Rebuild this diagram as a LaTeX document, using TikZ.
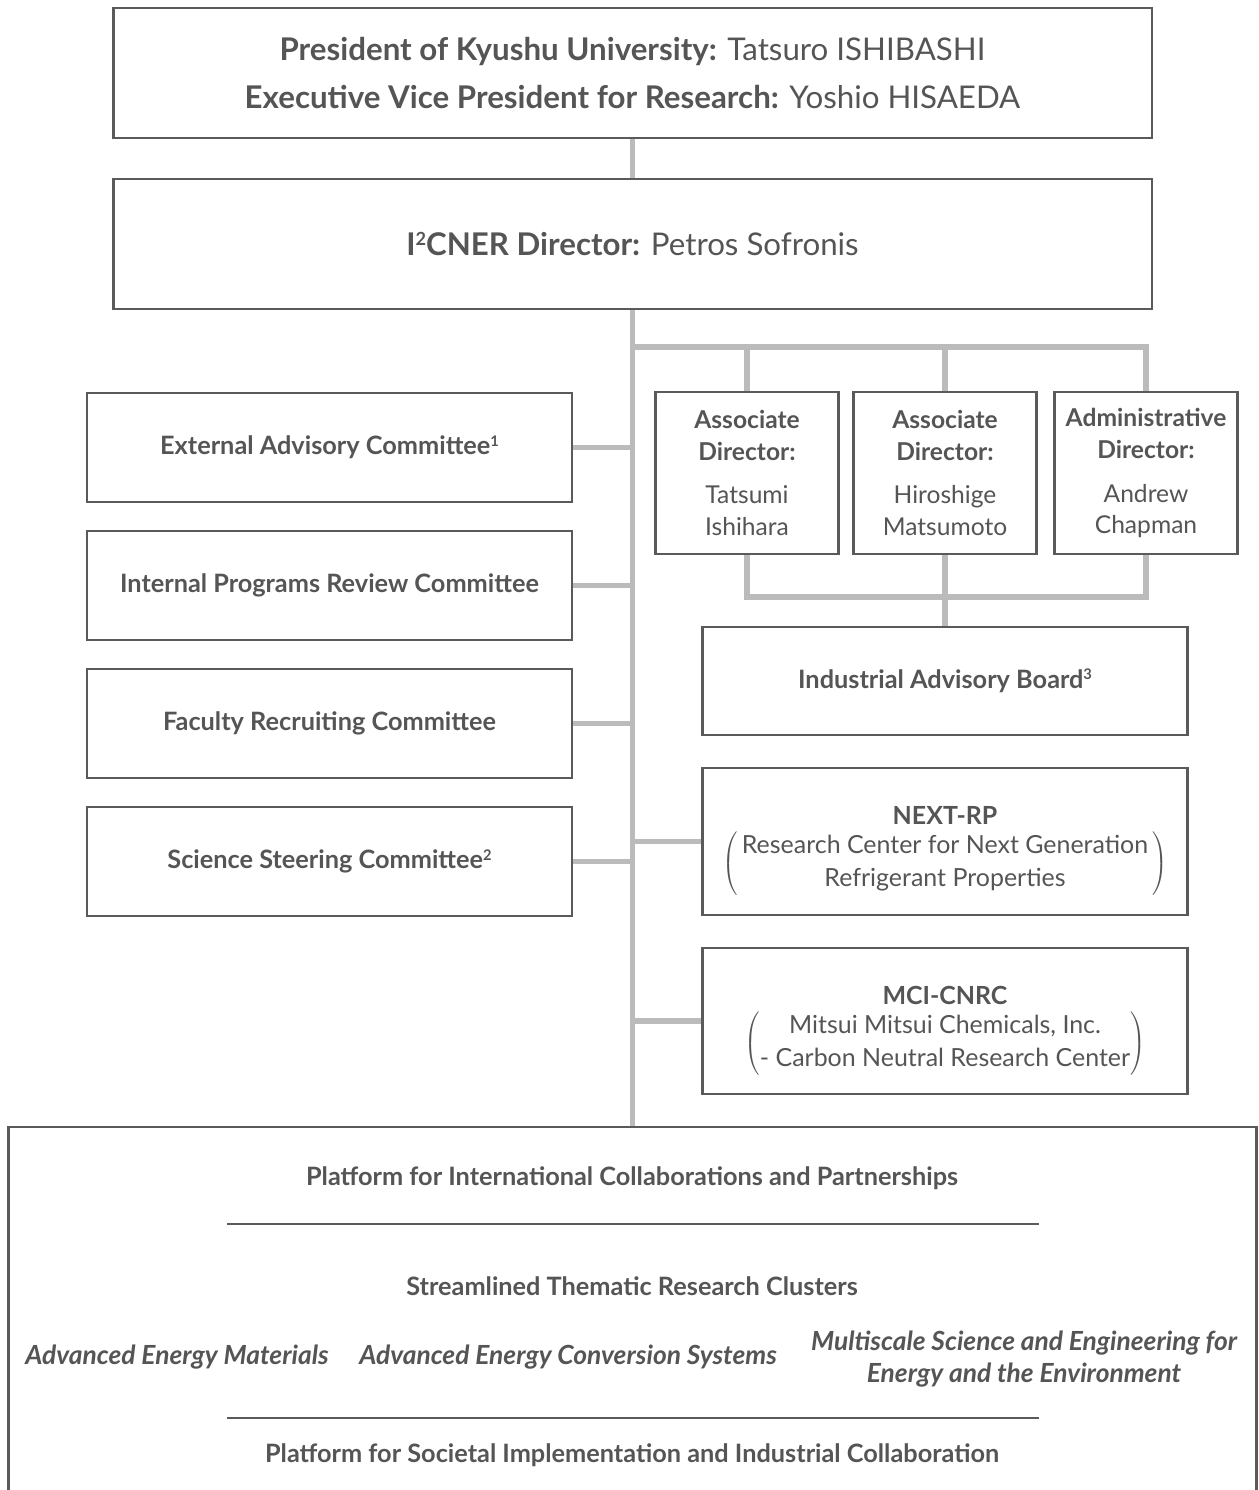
\documentclass[tikz,border=0pt]{standalone}
\usepackage{fontspec}
\setmainfont{Lato}
\usepackage{xcolor}
\usepackage{tikz}
\usetikzlibrary{backgrounds, positioning}

\definecolor{inkgray}{HTML}{555555}
\definecolor{framegray}{HTML}{5A5A5A}
\definecolor{linkgray}{HTML}{BBBBBB}

% small raised footnote digit
\newcommand{\supnum}[1]{\raisebox{0.34em}{\scalebox{0.58}{#1}}}

\tikzset{
    box/.style={draw=framegray, line width=1.6pt, fill=white, text=inkgray,
                align=center, inner sep=0pt},
    head/.style={box, minimum width=20.78cm, minimum height=2.6cm,
                 font=\fontsize{17.8}{27}\selectfont},
    committee/.style={box, minimum width=9.7cm, minimum height=2.18cm,
                      font=\fontsize{14.4}{18}\selectfont\bfseries},
    deputy/.style={box, minimum width=3.66cm, minimum height=3.24cm,
                   font=\fontsize{14}{18}\selectfont},
    unit/.style={box, minimum width=9.7cm, font=\fontsize{14.2}{18}\selectfont},
    unittext/.style={text=inkgray, align=center, inner sep=0pt,
                     font=\fontsize{14.2}{18}\selectfont},
    label/.style={text=inkgray, align=center, font=\fontsize{14.4}{18}\selectfont\bfseries},
    cluster/.style={label, font=\fontsize{15}{18}\selectfont\bfseries\itshape},
    link/.style={draw=linkgray, line width=3.4pt},
    rule/.style={draw=framegray, line width=0.8pt}
}

\begin{document}
\begin{tikzpicture}[x=0.02cm, y=-0.02cm]
    \clip (0,0) rectangle (1258,1490);

    % =================================================================
    % 1. TOP OF THE HIERARCHY
    % =================================================================
    \node[head] (president) at (632.5,73)
        {\textbf{President of Kyushu University:} Tatsuro ISHIBASHI\\
         \textbf{Executive Vice President for Research:} Yoshio HISAEDA};
    \node[head] (director) at (632.5,244)
        {\textbf{I\supnum{2}CNER Director:} Petros Sofronis};

    % =================================================================
    % 2. COMMITTEES (LEFT COLUMN)
    % =================================================================
    \node[committee] (external) at (329.5,447.5) {External Advisory Committee\supnum{1}};
    \node[committee] (internal) at (329.5,585.5) {Internal Programs Review Committee};
    \node[committee] (recruit)  at (329.5,723.5) {Faculty Recruiting Committee};
    \node[committee] (steering) at (329.5,861.5) {Science Steering Committee\supnum{2}};

    % =================================================================
    % 3. DIRECTORS AND UNITS (RIGHT COLUMN)
    % =================================================================
    \node[deputy] (assocA) at (747,473)
        {\textbf{Associate}\\\textbf{Director:}\\[7pt]Tatsumi\\Ishihara};
    \node[deputy] (assocB) at (945,473)
        {\textbf{Associate}\\\textbf{Director:}\\[7pt]Hiroshige\\Matsumoto};
    \node[deputy] (admin) at (1146,473)
        {\textbf{Administrative}\\\textbf{Director:}\\[7pt]Andrew\\Chapman};

    \node[unit, minimum height=2.16cm, font=\fontsize{14.4}{18}\selectfont\bfseries] (industry) at (945,681)
        {Industrial Advisory Board\supnum{3}};

    % research centres: frame first, text set a little below the middle
    \node[unit, minimum height=2.94cm] (nextrp) at (945,841.5) {};
    \node[unittext] (nextrptext) at (945,851)
        {\textbf{NEXT-RP}\\[3pt]
         $\left(\,\vcenter{\hbox{\begin{tabular}{@{}c@{}}Research Center for Next Generation\\[0.5pt]
          Refrigerant Properties\end{tabular}}}\,\right)$};
    \node[unit, minimum height=2.92cm] (mci) at (945,1021) {};
    \node[unittext] (mcitext) at (945,1031)
        {\textbf{MCI-CNRC}\\[3pt]
         $\left(\vcenter{\hbox{\begin{tabular}{@{}c@{}}Mitsui Mitsui Chemicals, Inc.\\[0.5pt]
          - Carbon Neutral Research Center\end{tabular}}}\right)$};

    % =================================================================
    % 4. PLATFORMS AND RESEARCH CLUSTERS
    % =================================================================
    \node[box, minimum width=24.98cm, minimum height=7.86cm] (platform) at (632.5,1323.5) {};

    \node[label]   (intl)       at (632,1178)  {Platform for International Collaborations and Partnerships};
    \node[label]   (clusters)   at (632,1286)  {Streamlined Thematic Research Clusters};
    \node[cluster] (materials)  at (177,1357)  {Advanced Energy Materials};
    \node[cluster] (conversion) at (568,1357)  {Advanced Energy Conversion Systems};
    \node[cluster] (multiscale) at (1024,1359)
        {Multiscale Science and Engineering for\\Energy and the Environment};
    \node[label]   (societal)   at (632,1455)  {Platform for Societal Implementation and Industrial Collaboration};

    \draw[rule] (227,1224) -- (1039,1224);
    \draw[rule] (227,1418) -- (1039,1418);

    % =================================================================
    % 5. CONNECTING LINES
    % =================================================================
    \coordinate (topbar) at (632.5,347);
    \coordinate (lowbar) at (945,597);

    \begin{scope}[on background layer]
        \draw[link] (president) -- (director);
        \draw[link] (director.south) -- (platform.north);

        \draw[link] (topbar) -| (admin.north);
        \draw[link] (topbar -| assocA.north) -- (assocA.north);
        \draw[link] (topbar -| assocB.north) -- (assocB.north);

        \draw[link] (assocA.south) |- (lowbar) -| (admin.south);
        \draw[link] (assocB.south) -- (industry.north);

        \foreach \n in {external, internal, recruit, steering}
            \draw[link] (\n.east) -- (\n.east -| director.south);
        \foreach \n in {nextrp, mci}
            \draw[link] (\n.west) -- (\n.west -| director.south);
    \end{scope}

\end{tikzpicture}
\end{document}
